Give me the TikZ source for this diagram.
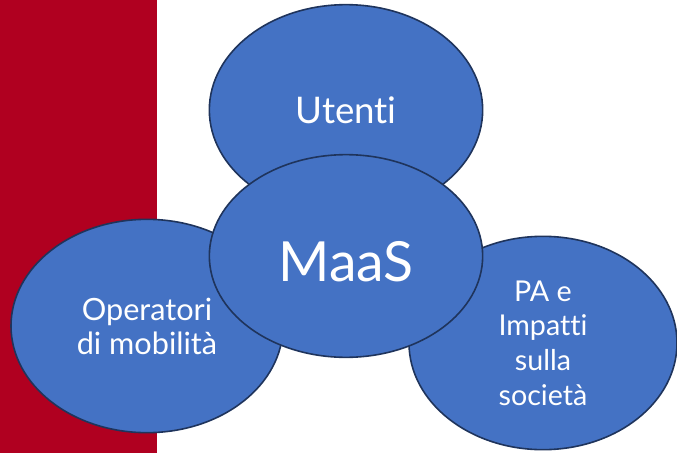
\documentclass[tikz,border=0pt]{standalone}
\usepackage{fontspec}
\setmainfont{Lato}[Ligatures={NoCommon,NoRare,NoContextual}]
\usetikzlibrary{shapes.geometric}

\definecolor{bandred}{RGB}{176,0,32}
\definecolor{maasblue}{RGB}{68,114,196}
\definecolor{rimblue}{RGB}{31,52,92}

\tikzset{
  bubble/.style={ellipse, draw=rimblue, line width=1.2pt, fill=maasblue, inner sep=0pt},
  bubbletext/.style={text=white, align=center, inner sep=0pt}
}

\begin{document}
\begin{tikzpicture}[x=0.75pt,y=-0.75pt]
%\draw[step=10,gray,very thin] (0,0) grid (677,453);
\useasboundingbox (0,0) rectangle (677,453);

\fill[bandred] (0,0) rectangle (157,453);

% circles, back to front
\node[bubble, minimum width=205pt, minimum height=158pt] (ut) at (346,110) {};
\node[bubble, minimum width=204pt, minimum height=160pt] (op) at (147,326) {};
\node[bubble, minimum width=201pt, minimum height=160pt] (pa) at (543,343) {};
\node[bubble, minimum width=205pt, minimum height=152pt] (maas) at (346,256) {};

% labels
\node[bubbletext, font=\fontsize{27.5}{32}\selectfont] (utT) at (ut.center) {Utenti};
\node[bubbletext, font=\fontsize{41.5}{46}\selectfont] (maasT) at ([yshift=-4pt]maas.center) {MaaS};
\node[bubbletext, font=\fontsize{23}{25.5}\selectfont] (opT) at (op.center) {Operatori\\di mobilità};
\node[bubbletext, font=\fontsize{21.5}{26}\selectfont] (paT) at (pa.center) {PA e\\Impatti\\sulla\\società};
\end{tikzpicture}
\end{document}
